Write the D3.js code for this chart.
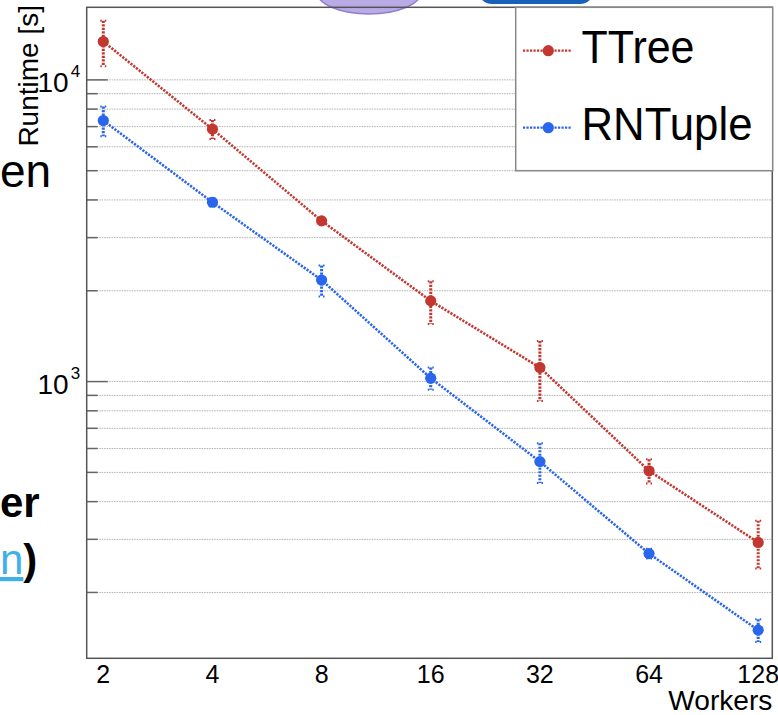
<!DOCTYPE html>
<html>
<head>
<meta charset="utf-8">
<script src="https://cdn.jsdelivr.net/npm/d3@7"></script>
<style>
  html, body { margin: 0; padding: 0; background: #fff; }
  svg { display: block; font-family: "Liberation Sans", Arial, Helvetica, sans-serif; }
</style>
</head>
<body>
<svg id="chart" width="778" height="715"></svg>
<script>
// Data
var workers = [2, 4, 8, 16, 32, 64, 128];
var ttree = [13400, 6865, 3410, 1851, 1113, 506, 293];
var ttreeErr = [2300, 500, 60, 300, 250, 47, 53];
var rntuple = [7330, 3930, 2170, 1026, 543, 269, 150];
var rntupleErr = [830, 125, 255, 87, 82, 10, 13];
var xTickLabels = ["2", "4", "8", "16", "32", "64", "128"];
var yMajor = [1000, 10000];
var yGrid = [200, 300, 400, 500, 600, 700, 800, 900,
             1000, 2000, 3000, 4000, 5000, 6000, 7000, 8000, 9000, 10000];

var red = "#c2372f";
var blue = "#2a66ec";

var svg = d3.select("#chart");

//Plot frame
var frameL = 86.7, frameR = 772.3, frameT = 7.3, frameB = 658.3;

var x = d3.scaleLog().base(2).domain([1.8, 140]).range([frameL, frameR]);
var y = d3.scaleLog().domain([121, 17400]).range([frameB, frameT]);

//Slide leftovers around the plot
svg.append("ellipse")
    .attr("cx", 369).attr("cy", -8).attr("rx", 52).attr("ry", 22)
    .attr("fill", "#b9abe6").attr("stroke", "#8f7fd0").attr("stroke-width", 1.5);
svg.append("rect")
    .attr("x", 478).attr("y", -30).attr("width", 116).attr("height", 34).attr("rx", 14)
    .attr("fill", "#1762b8");

svg.append("text").attr("x", 0).attr("y", 187)
    .style("font-size", "46px").text("en");
svg.append("text").attr("x", 0).attr("y", 517)
    .style("font-size", "42px").style("font-weight", "bold").text("er");
var lastLine = svg.append("text").attr("x", 0).attr("y", 574)
    .style("font-size", "42px");
lastLine.append("tspan").attr("fill", "#3fb0ea").style("text-decoration", "underline").text("n");
lastLine.append("tspan").style("font-weight", "bold").text(")");

//Horizontal grid lines
svg.append("g").selectAll("line")
    .data(yGrid)
    .enter()
    .append("line")
    .attr("x1", frameL).attr("x2", frameR)
    .attr("y1", function (d) { return y(d); })
    .attr("y2", function (d) { return y(d); })
    .attr("stroke", "#b0b0b0")
    .attr("stroke-width", 1)
    .attr("stroke-dasharray", "1.5,1");

//Tick marks on the y axis
svg.append("g").selectAll("line")
    .data(yGrid)
    .enter()
    .append("line")
    .attr("x1", frameL)
    .attr("x2", function (d) { return yMajor.indexOf(d) >= 0 ? frameL + 21 : frameL + 11; })
    .attr("y1", function (d) { return y(d); })
    .attr("y2", function (d) { return y(d); })
    .attr("stroke", "#666")
    .attr("stroke-width", 1.5);

//Y tick labels as 10^n
yMajor.forEach(function (v) {
    svg.append("text")
        .attr("x", frameL - 18)
        .attr("y", y(v) + 12.3)
        .attr("text-anchor", "end")
        .style("font-size", "28px")
        .text("10");
    svg.append("text")
        .attr("x", frameL - 16)
        .attr("y", y(v) - 3)
        .style("font-size", "17px")
        .text(String(Math.round(Math.log10(v))));
});

//X tick labels
svg.append("g").selectAll("text")
    .data(workers)
    .enter()
    .append("text")
    .attr("x", function (d) { return x(d); })
    .attr("y", 683)
    .attr("text-anchor", "middle")
    .style("font-size", "25px")
    .text(function (d, i) { return xTickLabels[i]; });

//Axis titles
svg.append("text")
    .attr("x", frameR)
    .attr("y", 710)
    .attr("text-anchor", "end")
    .style("font-size", "27px")
    .attr("textLength", 104)
    .attr("lengthAdjust", "spacingAndGlyphs")
    .text("Workers");

svg.append("text")
    .attr("transform", "translate(38,5) rotate(-90)")
    .attr("text-anchor", "end")
    .style("font-size", "28px")
    .text("Runtime [s]");

//Frame
svg.append("rect")
    .attr("x", frameL).attr("y", frameT)
    .attr("width", frameR - frameL).attr("height", frameB - frameT)
    .attr("fill", "none")
    .attr("stroke", "#555")
    .attr("stroke-width", 1.5);

//Series
function drawSeries(values, errors, color) {
    var pts = workers.map(function (w, i) {
        return {w: w, v: values[i], e: errors[i]};
    });
    var line = d3.line()
        .x(function (d) { return x(d.w); })
        .y(function (d) { return y(d.v); });

    svg.append("path")
        .datum(pts)
        .attr("d", line)
        .attr("fill", "none")
        .attr("stroke", color)
        .attr("stroke-width", 2.6)
        .attr("stroke-dasharray", "2.2,1.3");

    var g = svg.append("g");
    //error bars
    g.selectAll("line.err")
        .data(pts)
        .enter()
        .append("line")
        .attr("class", "err")
        .attr("x1", function (d) { return x(d.w); })
        .attr("x2", function (d) { return x(d.w); })
        .attr("y1", function (d) { return y(d.v + d.e); })
        .attr("y2", function (d) { return y(d.v - d.e); })
        .attr("stroke", color)
        .attr("stroke-width", 3)
        .attr("stroke-dasharray", "2.2,1.3");
    //small end caps
    ["top", "bot"].forEach(function (end) {
        g.selectAll("line.cap" + end)
            .data(pts)
            .enter()
            .append("line")
            .attr("class", "cap" + end)
            .attr("x1", function (d) { return x(d.w) - 3; })
            .attr("x2", function (d) { return x(d.w) + 3; })
            .attr("y1", function (d) { return end === "top" ? y(d.v + d.e) : y(d.v - d.e); })
            .attr("y2", function (d) { return end === "top" ? y(d.v + d.e) : y(d.v - d.e); })
            .attr("stroke", color)
            .attr("stroke-width", 2)
            .attr("stroke-dasharray", "1.5,3");
    });
    //markers
    g.selectAll("circle")
        .data(pts)
        .enter()
        .append("circle")
        .attr("cx", function (d) { return x(d.w); })
        .attr("cy", function (d) { return y(d.v); })
        .attr("r", 5.6)
        .attr("fill", color);
}

drawSeries(ttree, ttreeErr, red);
drawSeries(rntuple, rntupleErr, blue);

//Legend
var legend = svg.append("g");
legend.append("rect")
    .attr("x", 515.7).attr("y", frameT)
    .attr("width", frameR - 515.3).attr("height", 163.4)
    .attr("fill", "#fff")
    .attr("stroke", "#888")
    .attr("stroke-width", 1.5);

var entries = [
    {name: "TTree", color: red, cy: 50.7, len: 113},
    {name: "RNTuple", color: blue, cy: 127.7, len: 171}
];
entries.forEach(function (e) {
    legend.append("line")
        .attr("x1", 523).attr("x2", 572)
        .attr("y1", e.cy).attr("y2", e.cy)
        .attr("stroke", e.color)
        .attr("stroke-width", 2.2)
        .attr("stroke-dasharray", "2.2,1.3");
    legend.append("circle")
        .attr("cx", 548.3).attr("cy", e.cy).attr("r", 5.6)
        .attr("fill", e.color);
    legend.append("text")
        .attr("x", 581.5)
        .attr("y", e.cy + 12.6)
        .style("font-size", "46px")
        .attr("textLength", e.len)
        .attr("lengthAdjust", "spacingAndGlyphs")
        .text(e.name);
});
</script>
</body>
</html>
